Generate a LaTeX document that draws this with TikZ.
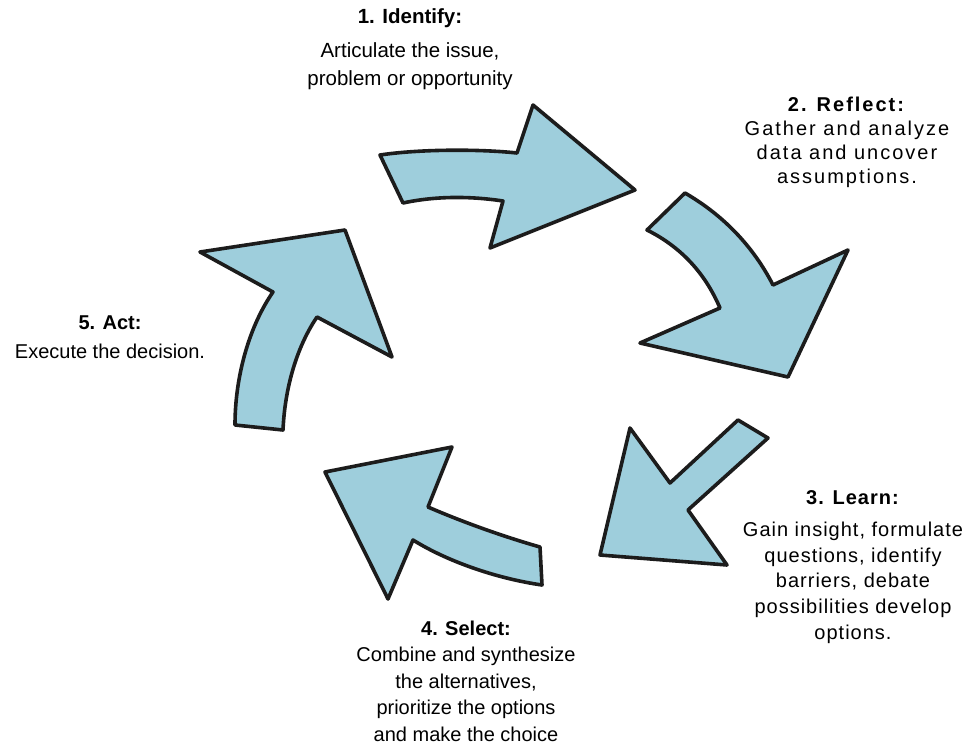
\documentclass[tikz,border=0pt]{standalone}
\usepackage{fontspec}
\setmainfont{Liberation Sans}
\newfontfamily\spacedA[LetterSpace=10]{Liberation Sans}
\newfontfamily\spacedB[LetterSpace=5]{Liberation Sans}
\definecolor{arrowfill}{RGB}{158,206,220}
\definecolor{arrowline}{RGB}{28,28,28}
\tikzset{
  cyclearrow/.style={fill=arrowfill, draw=arrowline, line width=3.6pt, line join=round},
  label/.style={inner sep=0pt, anchor=north, align=center, text=black}
}
\begin{document}
\begin{tikzpicture}[x=1pt,y=-1pt]
\useasboundingbox (0,0) rectangle (964,745);
% Arrow 1 (Identify -> Reflect)
\draw[cyclearrow] (380,155) .. controls (420,149) and (480,149) .. (517,153)
  -- (533,105) -- (635,190) -- (490,248) -- (503,201)
  .. controls (470,196) and (435,196) .. (403,203) -- cycle;
% Arrow 2 (Reflect -> Learn)
\draw[cyclearrow] (685,193) .. controls (723,215) and (753,246) .. (773,285)
  -- (848,250) -- (788,377) -- (640,343) -- (720,308)
  .. controls (705,273) and (681,247) .. (647,230) -- cycle;
% Arrow 3 (Learn -> Select)
\draw[cyclearrow] (738,420) -- (768,438) -- (688,510) -- (727,565)
  -- (600,555) -- (630,428) -- (670,483) -- cycle;
% Arrow 4 (Select -> Act)
\draw[cyclearrow] (325,472) -- (452,447) -- (428,507)
  .. controls (465,523) and (505,537) .. (540,547) -- (542,585)
  .. controls (500,579) and (450,563) .. (413,540) -- (388,599) -- cycle;
% Arrow 5 (Act -> Identify)
\draw[cyclearrow] (200,252) -- (345,230) -- (392,357) -- (317,317)
  .. controls (298,345) and (285,385) .. (283,430) -- (235,425)
  .. controls (235,375) and (250,325) .. (273,292) -- cycle;
% Labels
\node[label, font=\fontsize{20.5}{28}\selectfont] (identify) at (410,8.4)
  {\textbf{1. Identify:}\\[6pt]Articulate the issue,\\problem or opportunity};
\node[label, font=\spacedA\fontsize{20}{24}\selectfont] (reflect) at (847,96.4)
  {\textbf{2. Reflect:}\\Gather and analyze\\data and uncover\\assumptions.};
\node[label, font=\spacedB\fontsize{20}{25.7}\selectfont] (learn) at (853,490.7)
  {\textbf{3. Learn:}\\[6pt]Gain insight, formulate\\questions, identify\\barriers, debate\\possibilities develop\\options.};
\node[label, font=\fontsize{20}{26.5}\selectfont] (select) at (466,620.4)
  {\textbf{4. Select:}\\Combine and synthesize\\the alternatives,\\prioritize the options\\and make the choice};
\node[label, font=\fontsize{20}{29}\selectfont] (act) at (110,315.7)
  {\textbf{5. Act:}\\Execute the decision.};
\end{tikzpicture}
\end{document}
